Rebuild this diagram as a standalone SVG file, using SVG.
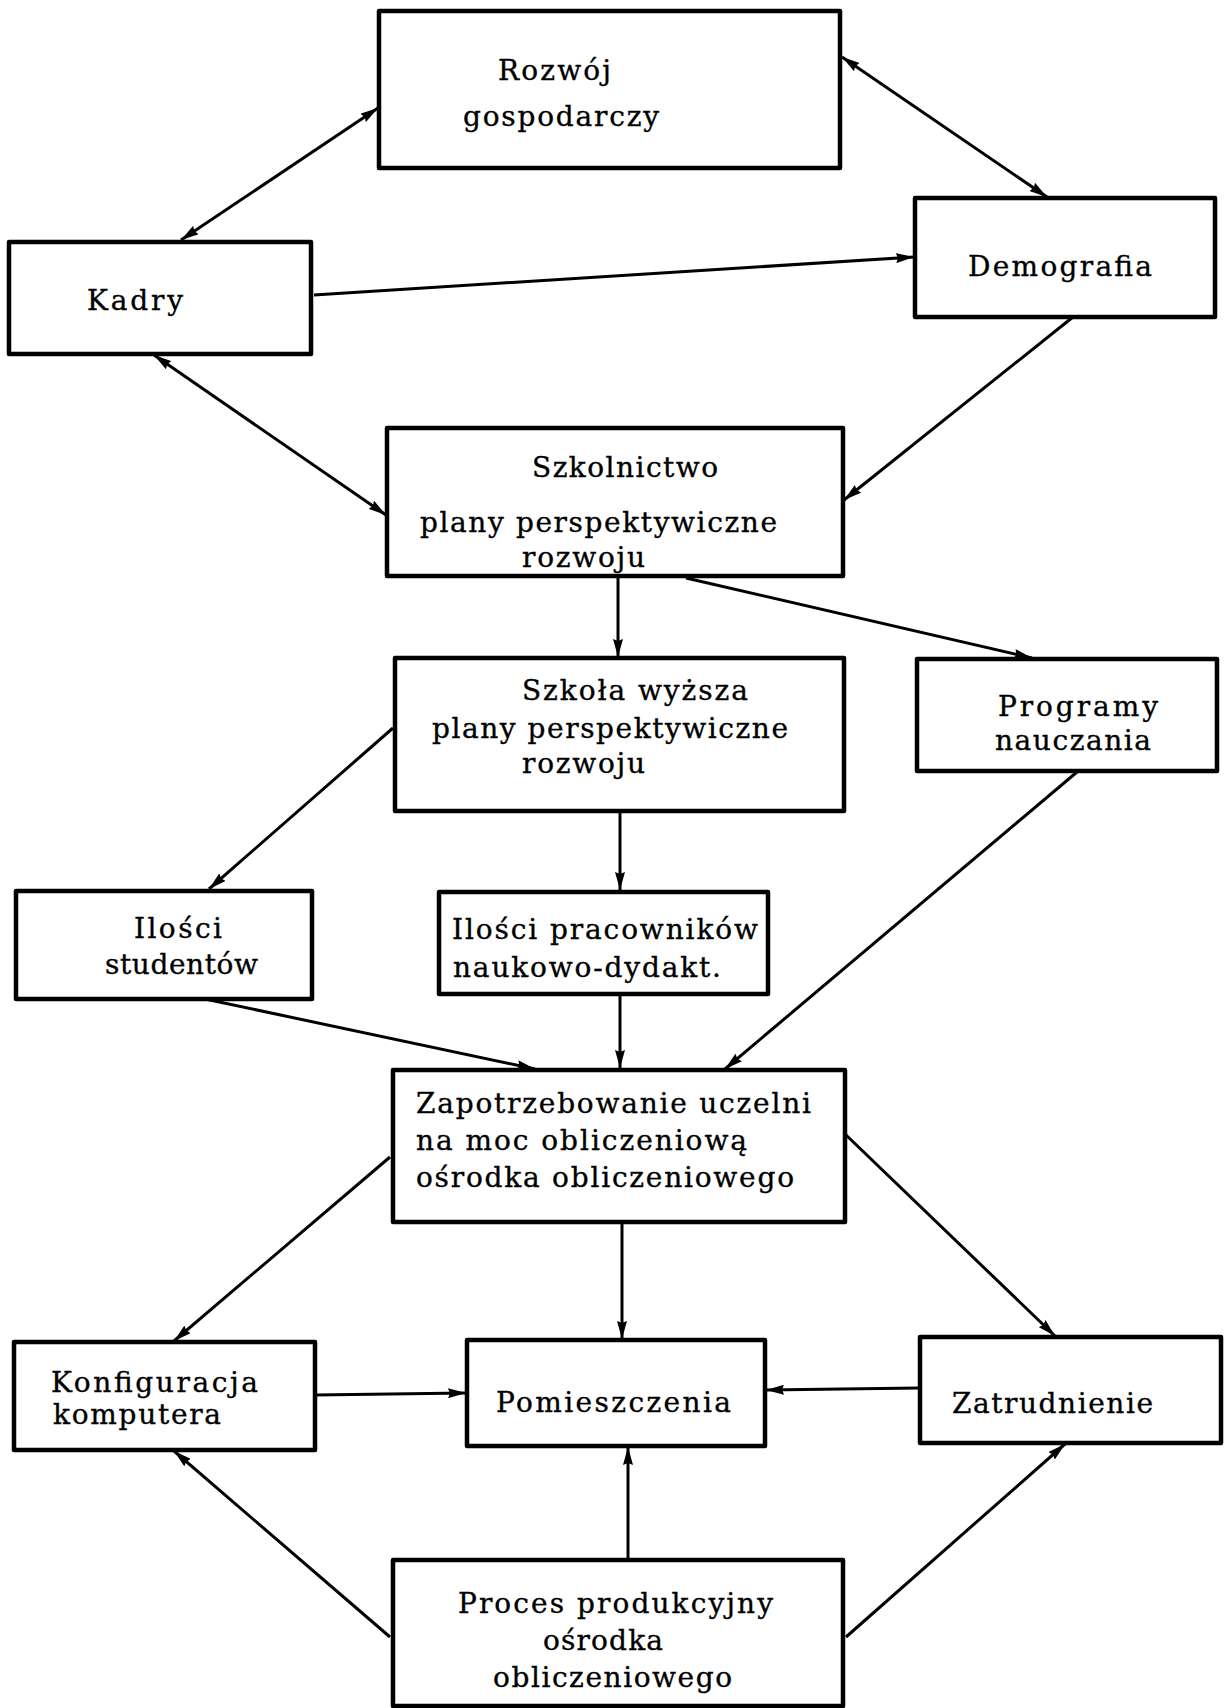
<svg xmlns="http://www.w3.org/2000/svg" width="1224" height="1708" viewBox="0 0 1224 1708">
<style>
  .box { fill: #ffffff; stroke: #000000; stroke-width: 4.5; stroke-linejoin: round; }
  .t { font-family: "DejaVu Serif", "Liberation Serif", serif; font-size: 28px; fill: #000000; stroke: #000000; stroke-width: 0.35; }
  .c { fill: none; stroke: #000000; stroke-width: 3; }
</style>
<defs>
  <marker id="ah" viewBox="0 0 18 10" markerUnits="userSpaceOnUse" markerWidth="18" markerHeight="10" refX="18" refY="5" orient="auto-start-reverse">
    <path d="M0,0 L18,5 L0,10 L2,5 z" fill="#000000"/>
  </marker>
</defs>
<rect x="0" y="0" width="1224" height="1708" fill="#ffffff"/>

<g id="connectors">
  <line class="c" x1="181" y1="240" x2="378" y2="108" marker-start="url(#ah)" marker-end="url(#ah)"/>
  <line class="c" x1="842" y1="57" x2="1047" y2="197" marker-start="url(#ah)" marker-end="url(#ah)"/>
  <line class="c" x1="314" y1="295" x2="914" y2="257" marker-end="url(#ah)"/>
  <line class="c" x1="154" y1="355" x2="386" y2="515" marker-start="url(#ah)" marker-end="url(#ah)"/>
  <line class="c" x1="1073" y1="317" x2="844" y2="500" marker-end="url(#ah)"/>
  <line class="c" x1="618" y1="577" x2="618" y2="657" marker-end="url(#ah)"/>
  <line class="c" x1="686" y1="578" x2="1032" y2="658" marker-end="url(#ah)"/>
  <line class="c" x1="393" y1="728" x2="209" y2="889" marker-end="url(#ah)"/>
  <line class="c" x1="620" y1="811" x2="620" y2="890" marker-end="url(#ah)"/>
  <line class="c" x1="1077" y1="772" x2="725" y2="1069" marker-end="url(#ah)"/>
  <line class="c" x1="205" y1="999" x2="535" y2="1069" marker-end="url(#ah)"/>
  <line class="c" x1="620" y1="995" x2="620" y2="1068" marker-end="url(#ah)"/>
  <line class="c" x1="390" y1="1157" x2="174" y2="1341" marker-end="url(#ah)"/>
  <line class="c" x1="622" y1="1222" x2="622" y2="1339" marker-end="url(#ah)"/>
  <line class="c" x1="846" y1="1135" x2="1055" y2="1336" marker-end="url(#ah)"/>
  <line class="c" x1="315" y1="1395" x2="466" y2="1393" marker-end="url(#ah)"/>
  <line class="c" x1="919" y1="1388" x2="766" y2="1390" marker-end="url(#ah)"/>
  <line class="c" x1="628" y1="1559" x2="628" y2="1447" marker-end="url(#ah)"/>
  <line class="c" x1="390" y1="1637" x2="174" y2="1451" marker-end="url(#ah)"/>
  <line class="c" x1="846" y1="1637" x2="1065" y2="1444" marker-end="url(#ah)"/>
</g>

<g id="rozwoj">
  <rect class="box" x="379" y="11" width="461" height="157"/>
  <text class="t" x="498" y="80" textLength="113" lengthAdjust="spacing">Rozwój</text>
  <text class="t" x="463" y="126" textLength="196" lengthAdjust="spacing">gospodarczy</text>
</g>

<g id="kadry">
  <rect class="box" x="9" y="242" width="302" height="112"/>
  <text class="t" x="87" y="310" textLength="96" lengthAdjust="spacing">Kadry</text>
</g>

<g id="demografia">
  <rect class="box" x="915" y="198" width="300" height="119"/>
  <text class="t" x="968" y="276" textLength="184" lengthAdjust="spacing">Demografia</text>
</g>

<g id="szkolnictwo">
  <rect class="box" x="387" y="428" width="456" height="148"/>
  <text class="t" x="532" y="477" textLength="186" lengthAdjust="spacing">Szkolnictwo</text>
  <text class="t" x="420" y="532" textLength="357" lengthAdjust="spacing">plany perspektywiczne</text>
  <text class="t" x="522" y="567" textLength="123" lengthAdjust="spacing">rozwoju</text>
</g>

<g id="szkola-wyzsza">
  <rect class="box" x="395" y="658" width="449" height="153"/>
  <text class="t" x="522" y="700" textLength="226" lengthAdjust="spacing">Szkoła wyższa</text>
  <text class="t" x="432" y="738" textLength="356" lengthAdjust="spacing">plany perspektywiczne</text>
  <text class="t" x="522" y="773" textLength="123" lengthAdjust="spacing">rozwoju</text>
</g>

<g id="programy">
  <rect class="box" x="917" y="659" width="300" height="112"/>
  <text class="t" x="998" y="716" textLength="160" lengthAdjust="spacing">Programy</text>
  <text class="t" x="995" y="750" textLength="156" lengthAdjust="spacing">nauczania</text>
</g>

<g id="ilosci-studentow">
  <rect class="box" x="16" y="891" width="296" height="108"/>
  <text class="t" x="134" y="938" textLength="88" lengthAdjust="spacing">Ilości</text>
  <text class="t" x="105" y="974" textLength="153" lengthAdjust="spacing">studentów</text>
</g>

<g id="ilosci-pracownikow">
  <rect class="box" x="439" y="892" width="329" height="102"/>
  <text class="t" x="452" y="939" textLength="306" lengthAdjust="spacing">Ilości pracowników</text>
  <text class="t" x="453" y="977" textLength="268" lengthAdjust="spacing">naukowo-dydakt.</text>
</g>

<g id="zapotrzebowanie">
  <rect class="box" x="393" y="1070" width="452" height="152"/>
  <text class="t" x="416" y="1113" textLength="395" lengthAdjust="spacing">Zapotrzebowanie uczelni</text>
  <text class="t" x="416" y="1150" textLength="331" lengthAdjust="spacing">na moc obliczeniową</text>
  <text class="t" x="416" y="1187" textLength="378" lengthAdjust="spacing">ośrodka obliczeniowego</text>
</g>

<g id="konfiguracja">
  <rect class="box" x="14" y="1342" width="301" height="108"/>
  <text class="t" x="51" y="1392" textLength="207" lengthAdjust="spacing">Konfiguracja</text>
  <text class="t" x="53" y="1424" textLength="168" lengthAdjust="spacing">komputera</text>
</g>

<g id="pomieszczenia">
  <rect class="box" x="467" y="1340" width="298" height="106"/>
  <text class="t" x="496" y="1412" textLength="235" lengthAdjust="spacing">Pomieszczenia</text>
</g>

<g id="zatrudnienie">
  <rect class="box" x="920" y="1337" width="301" height="106"/>
  <text class="t" x="952" y="1413" textLength="201" lengthAdjust="spacing">Zatrudnienie</text>
</g>

<g id="proces">
  <rect class="box" x="393" y="1560" width="450" height="146"/>
  <text class="t" x="458" y="1613" textLength="315" lengthAdjust="spacing">Proces produkcyjny</text>
  <text class="t" x="543" y="1650" textLength="120" lengthAdjust="spacing">ośrodka</text>
  <text class="t" x="493" y="1687" textLength="239" lengthAdjust="spacing">obliczeniowego</text>
</g>
</svg>
